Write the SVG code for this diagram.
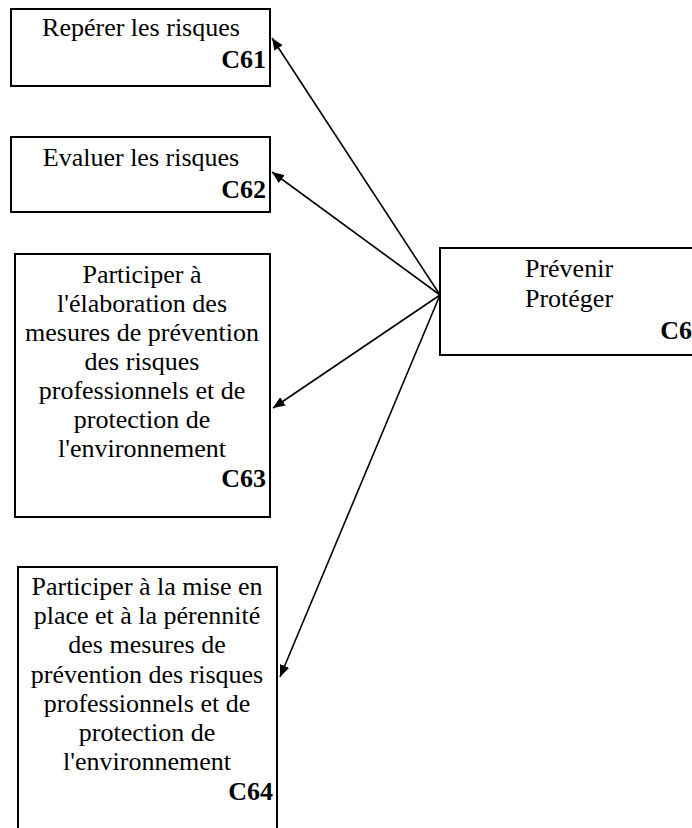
<svg xmlns="http://www.w3.org/2000/svg" width="692" height="828" viewBox="0 0 692 828">
<style>
.box{fill:#fff;stroke:#000;stroke-width:2}
text{font-family:'Liberation Serif','Times New Roman','DejaVu Serif',serif;font-size:26px;fill:#000}
.t{text-anchor:middle}
.c{font-weight:bold;text-anchor:end}
.arr{stroke:#000;stroke-width:1.6;fill:none;marker-end:url(#ah)}
</style>
<defs>
<marker id="ah" viewBox="0 0 12 10" refX="12" refY="5" markerWidth="12" markerHeight="10" markerUnits="userSpaceOnUse" orient="auto">
<path d="M0,0 L12,5 L0,10 z" fill="#000"/>
</marker>
</defs>
<rect width="692" height="828" fill="#fff"/>
<g id="n61">
<rect class="box" x="11" y="9" width="259" height="77"/>
<text class="t" x="141" y="36">Repérer les risques</text>
<text class="c" x="266" y="68">C61</text>
</g>
<g id="n62">
<rect class="box" x="11" y="137" width="259" height="75"/>
<text class="t" x="141" y="166">Evaluer les risques</text>
<text class="c" x="266" y="198">C62</text>
</g>
<g id="n63">
<rect class="box" x="15" y="254" width="255" height="263"/>
<text class="t" x="142" y="283">Participer à</text>
<text class="t" x="142" y="312">l'élaboration des</text>
<text class="t" x="142" y="341">mesures de prévention</text>
<text class="t" x="142" y="370">des risques</text>
<text class="t" x="142" y="399">professionnels et de</text>
<text class="t" x="142" y="428">protection de</text>
<text class="t" x="142" y="457">l'environnement</text>
<text class="c" x="266" y="487">C63</text>
</g>
<g id="n64">
<rect class="box" x="18" y="567" width="259" height="270"/>
<text class="t" x="147" y="595">Participer à la mise en</text>
<text class="t" x="147" y="624">place et à la pérennité</text>
<text class="t" x="147" y="653">des mesures de</text>
<text class="t" x="147" y="683">prévention des risques</text>
<text class="t" x="147" y="712">professionnels et de</text>
<text class="t" x="147" y="741">protection de</text>
<text class="t" x="147" y="770">l'environnement</text>
<text class="c" x="273" y="800">C64</text>
</g>
<g id="n6">
<rect class="box" x="440" y="248" width="270" height="107"/>
<text class="t" x="569" y="277">Prévenir</text>
<text class="t" x="569" y="307">Protéger</text>
<text class="c" x="692" y="339">C6</text>
</g>
<g id="connectors">
<line class="arr" x1="440" y1="295" x2="272" y2="38"/>
<line class="arr" x1="440" y1="295" x2="272" y2="172"/>
<line class="arr" x1="440" y1="295" x2="273" y2="408"/>
<line class="arr" x1="440" y1="295" x2="280" y2="677"/>
</g>
</svg>
